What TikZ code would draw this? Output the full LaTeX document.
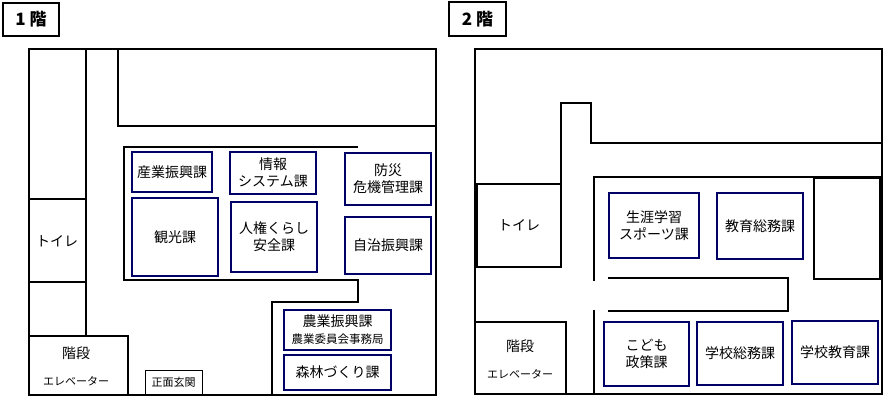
\documentclass[tikz,border=0pt]{standalone}
\usepackage{fontspec}
\setmainfont{Noto Sans CJK JP}
\begin{document}
\begin{tikzpicture}[x=1pt,y=-1pt,
  wall/.style={line width=2.6pt,black},
  thin/.style={line width=1pt,black},
  room/.style={draw=blue!40!black,line width=2pt,align=center,font=\fontsize{14}{17}\selectfont},
  lbl/.style={font=\fontsize{14}{17}\selectfont,align=center},
  ttl/.style={draw,line width=2.2pt,font=\bfseries\fontsize{17}{19}\selectfont}]
\useasboundingbox (0,0) rectangle (894,406);
% ---- 1F
\node[ttl,minimum width=56pt,minimum height=33pt] (t1) at (31,19.5) {1 階};
\draw[wall] (29,49) rectangle (436,395);
\draw[wall] (86,49) -- (86,336);
\draw[wall] (29,199) -- (86,199) (29,282) -- (86,282);
\node[lbl] (toi1) at (57,241) {トイレ};
\draw[wall] (118,49) -- (118,126) -- (436,126);
\draw[wall] (358,147) -- (124,147) -- (124,280) -- (358,280) -- (358,302) -- (272,302) -- (272,395);
\draw[wall] (29,336) rectangle (128,395);
\node[lbl] (st1) at (76,353) {階段};
\node[lbl,font=\fontsize{11}{12}\selectfont] (el1) at (76,381) {エレベーター};
\node[draw,thin,lbl,font=\fontsize{11}{12}\selectfont,minimum width=57pt,minimum height=25pt,inner sep=0pt] (gen) at (173.5,382.5) {正面玄関};
\node[room,minimum width=80pt,minimum height=40pt,inner sep=1pt] (a1) at (172,172) {産業振興課};
\node[room,minimum width=86pt,minimum height=42pt,inner sep=1pt] (a2) at (273,173) {情報\\システム課};
\node[room,minimum width=86pt,minimum height=52pt,inner sep=1pt] (a3) at (388,179) {防災\\危機管理課};
\node[room,minimum width=86pt,minimum height=78pt] (a4) at (175,237) {観光課};
\node[room,minimum width=86pt,minimum height=70pt] (a5) at (274,237) {人権くらし\\安全課};
\node[room,minimum width=86pt,minimum height=57pt] (a6) at (388,245.5) {自治振興課};
\node[room,minimum width=107pt,minimum height=40pt,inner sep=1pt] (a7) at (337.5,330) {農業振興課\\{\fontsize{11.5}{13}\selectfont 農業委員会事務局}};
\node[room,minimum width=107pt,minimum height=35pt] (a8) at (337.5,372.5) {森林づくり課};
% ---- 2F
\node[ttl,minimum width=57pt,minimum height=34pt] (t2) at (477.5,19) {2 階};
\draw[wall] (475,49) rectangle (882,394);
\draw[wall] (477,184) rectangle (561,267);
\node[lbl] (toi2) at (519,225.5) {トイレ};
\draw[wall] (561,184) -- (561,103) -- (591,103) -- (591,143) -- (882,143);
\draw[wall] (882,177) -- (594,177) -- (594,281);
\draw[wall] (594,310) -- (594,394);
\draw[wall] (814,178) rectangle (880,279);
\draw[wall] (608,278) -- (788,278) -- (788,311) -- (608,311);
\draw[wall] (475,322) rectangle (566,394);
\node[lbl] (st2) at (520,346) {階段};
\node[lbl,font=\fontsize{11}{12}\selectfont] (el2) at (520,374) {エレベーター};
\node[room,minimum width=90pt,minimum height=65pt] (b1) at (654,225.5) {生涯学習\\スポーツ課};
\node[room,minimum width=86pt,minimum height=66pt] (b2) at (760,226) {教育総務課};
\node[room,minimum width=85pt,minimum height=64pt] (b3) at (646.5,354) {こども\\政策課};
\node[room,minimum width=86pt,minimum height=63pt] (b4) at (740,353.5) {学校総務課};
\node[room,minimum width=86pt,minimum height=63pt] (b5) at (835,352.5) {学校教育課};
\end{tikzpicture}
\end{document}
